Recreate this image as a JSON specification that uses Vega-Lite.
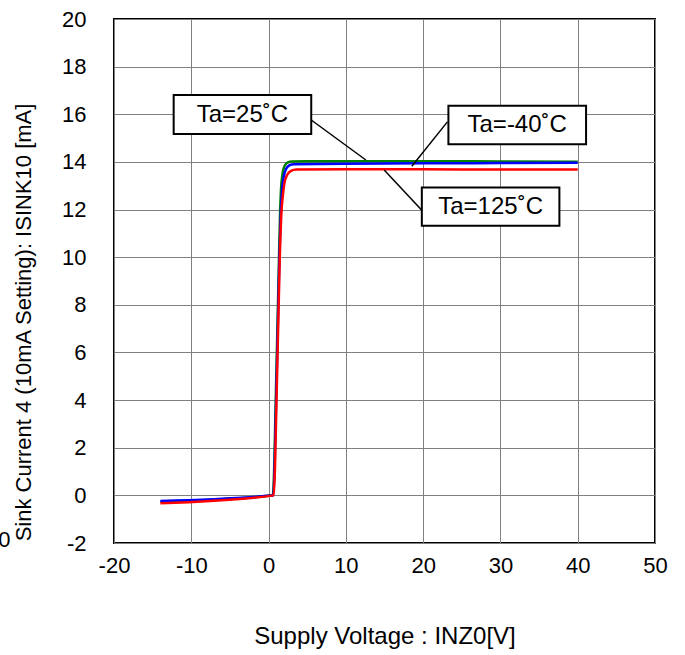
{
  "$schema": "https://vega.github.io/schema/vega-lite/v6.json",
  "width": 541,
  "height": 524,
  "autosize": {"type": "none"},
  "padding": {"left": 114, "top": 19, "right": 30, "bottom": 112},
  "background": "white",
  "config": {
    "font": "Liberation Sans",
    "view": {"stroke": "black", "strokeWidth": 2},
    "axis": {
      "domain": false,
      "ticks": false,
      "grid": true,
      "gridColor": "#808080",
      "gridWidth": 1,
      "labelFlush": false,
      "labelOverlap": false,
      "labelFont": "Liberation Sans",
      "labelFontSize": 22,
      "labelColor": "black",
      "labelExpr": "replace(datum.label, '−', '-')",
      "titleFont": "Liberation Sans",
      "titleFontWeight": "normal",
      "titleColor": "black"
    }
  },
  "datasets": {
    "curves": [
      {"series": "Ta=25", "x": -14, "y": -0.27},
      {"series": "Ta=25", "x": 0.55, "y": 0.0},
      {"series": "Ta=25", "x": 1.0, "y": 5.0},
      {"series": "Ta=25", "x": 1.35, "y": 10.0},
      {"series": "Ta=25", "x": 1.5, "y": 12.0},
      {"series": "Ta=25", "x": 1.6, "y": 12.8},
      {"series": "Ta=25", "x": 1.8, "y": 13.5},
      {"series": "Ta=25", "x": 2.1, "y": 13.85},
      {"series": "Ta=25", "x": 2.5, "y": 13.98},
      {"series": "Ta=25", "x": 3.0, "y": 14.02},
      {"series": "Ta=25", "x": 10, "y": 14.03},
      {"series": "Ta=25", "x": 20, "y": 14.03},
      {"series": "Ta=25", "x": 30, "y": 14.02},
      {"series": "Ta=25", "x": 40, "y": 14.01},
      {"series": "Ta=-40", "x": -14, "y": -0.24},
      {"series": "Ta=-40", "x": 0.6, "y": 0.0},
      {"series": "Ta=-40", "x": 1.05, "y": 5.0},
      {"series": "Ta=-40", "x": 1.4, "y": 10.0},
      {"series": "Ta=-40", "x": 1.6, "y": 12.0},
      {"series": "Ta=-40", "x": 1.75, "y": 12.8},
      {"series": "Ta=-40", "x": 1.95, "y": 13.35},
      {"series": "Ta=-40", "x": 2.25, "y": 13.7},
      {"series": "Ta=-40", "x": 2.7, "y": 13.86},
      {"series": "Ta=-40", "x": 3.3, "y": 13.9},
      {"series": "Ta=-40", "x": 10, "y": 13.92},
      {"series": "Ta=-40", "x": 20, "y": 13.94},
      {"series": "Ta=-40", "x": 30, "y": 13.95},
      {"series": "Ta=-40", "x": 40, "y": 13.96},
      {"series": "Ta=125", "x": -14, "y": -0.33},
      {"series": "Ta=125", "x": 0.65, "y": 0.0},
      {"series": "Ta=125", "x": 1.1, "y": 5.0},
      {"series": "Ta=125", "x": 1.45, "y": 10.0},
      {"series": "Ta=125", "x": 1.65, "y": 11.8},
      {"series": "Ta=125", "x": 1.85, "y": 12.6},
      {"series": "Ta=125", "x": 2.05, "y": 13.1},
      {"series": "Ta=125", "x": 2.4, "y": 13.45},
      {"series": "Ta=125", "x": 2.9, "y": 13.62},
      {"series": "Ta=125", "x": 3.6, "y": 13.68},
      {"series": "Ta=125", "x": 10, "y": 13.69},
      {"series": "Ta=125", "x": 20, "y": 13.69},
      {"series": "Ta=125", "x": 30, "y": 13.68},
      {"series": "Ta=125", "x": 40, "y": 13.68}
    ],
    "notes": [
      {"label": "Ta=25˚C", "x1": -12.28, "x2": 5.52, "y1": 16.81, "y2": 15.17, "tx": -3.38, "ty": 15.99, "lx1": 5.52, "ly1": 15.76, "lx2": 12.59, "ly2": 14.08},
      {"label": "Ta=-40˚C", "x1": 23.27, "x2": 41.08, "y1": 16.36, "y2": 14.74, "tx": 32.17, "ty": 15.55, "lx1": 23.14, "ly1": 15.68, "lx2": 18.54, "ly2": 13.82},
      {"label": "Ta=125˚C", "x1": 19.83, "x2": 37.63, "y1": 12.93, "y2": 11.32, "tx": 28.73, "ty": 12.12, "lx1": 19.83, "ly1": 11.97, "lx2": 14.96, "ly2": 13.66}
    ],
    "stray": [{"t": "0", "x": -34.2, "y": -1.89}]
  },
  "layer": [
    {
      "data": {"name": "curves"},
      "mark": {"type": "line", "strokeWidth": 2.5, "interpolate": "monotone"},
      "encoding": {
        "x": {
          "field": "x", "type": "quantitative",
          "scale": {"domain": [-20, 50], "nice": false, "zero": false},
          "axis": {"values": [-20, -10, 0, 10, 20, 30, 40, 50], "title": "Supply Voltage : INZ0[V]", "titleFontSize": 24, "labelPadding": 12, "titlePadding": 48}
        },
        "y": {
          "field": "y", "type": "quantitative",
          "scale": {"domain": [-2, 20], "nice": false, "zero": false},
          "axis": {"values": [-2, 0, 2, 4, 6, 8, 10, 12, 14, 16, 18, 20], "title": "Sink Current 4 (10mA Setting): ISINK10 [mA]", "titleFontSize": 22, "titleY": 303, "labelPadding": 28, "titlePadding": 26}
        },
        "color": {
          "field": "series", "type": "nominal",
          "scale": {"domain": ["Ta=25", "Ta=-40", "Ta=125"], "range": ["#008000", "#0000ff", "#ff0000"]},
          "legend": null
        },
        "order": {"field": "x", "type": "quantitative"},
        "detail": {"field": "series"}
      }
    },
    {
      "data": {"name": "notes"},
      "mark": {"type": "rule", "color": "black", "strokeWidth": 1.5},
      "encoding": {
        "x": {"field": "lx1", "type": "quantitative"},
        "y": {"field": "ly1", "type": "quantitative"},
        "x2": {"field": "lx2"},
        "y2": {"field": "ly2"}
      }
    },
    {
      "data": {"name": "notes"},
      "mark": {"type": "rect", "fill": "white", "stroke": "black", "strokeWidth": 2},
      "encoding": {
        "x": {"field": "x1", "type": "quantitative"},
        "x2": {"field": "x2"},
        "y": {"field": "y1", "type": "quantitative"},
        "y2": {"field": "y2"}
      }
    },
    {
      "data": {"name": "notes"},
      "mark": {"type": "text", "fontSize": 24, "font": "Liberation Sans", "color": "black", "align": "center", "baseline": "middle"},
      "encoding": {
        "x": {"field": "tx", "type": "quantitative"},
        "y": {"field": "ty", "type": "quantitative"},
        "text": {"field": "label"}
      }
    },
    {
      "data": {"name": "stray"},
      "mark": {"type": "text", "fontSize": 22, "font": "Liberation Sans", "color": "black", "align": "center", "baseline": "middle"},
      "encoding": {
        "x": {"field": "x", "type": "quantitative"},
        "y": {"field": "y", "type": "quantitative"},
        "text": {"field": "t"}
      }
    }
  ]
}
